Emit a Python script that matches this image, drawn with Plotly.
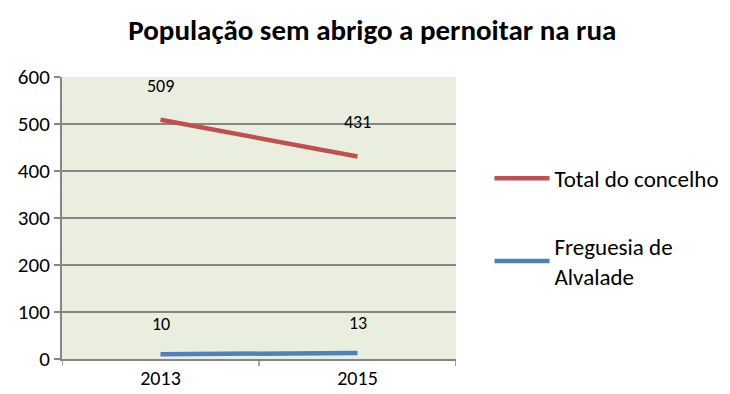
import plotly.graph_objects as go

# Data
years = ["2013", "2015"]
total_concelho = [509, 431]
freguesia_alvalade = [10, 13]
series_names = ["Total do concelho", "Freguesia de<br>Alvalade"]
y_ticks = [0, 100, 200, 300, 400, 500, 600]

FONT = "Carlito, Lato, 'Open Sans', sans-serif"

fig = go.Figure()
fig.add_trace(go.Scatter(
    x=years, y=total_concelho, mode="lines", name=series_names[0],
    legendgroup="a", line=dict(color="#C0504D", width=4.5),
))
fig.add_trace(go.Scatter(
    x=years, y=freguesia_alvalade, mode="lines", name=series_names[1],
    legendgroup="b", line=dict(color="#4F81BD", width=4.5),
))

# value labels above each point (category positions by index)
for series, shift in ((total_concelho, 34), (freguesia_alvalade, 30)):
    for i, v in enumerate(series):
        fig.add_annotation(x=i, y=v, xref="x", yref="y", text=str(v), showarrow=False,
                           yshift=shift, font=dict(size=18, color="#000000", family=FONT))

fig.update_layout(
    width=730, height=394,
    margin=dict(l=62, r=274, t=77, b=35, autoexpand=False),
    paper_bgcolor="white",
    plot_bgcolor="#EAEEDF",
    title=dict(text="<b>População sem abrigo a pernoitar na rua</b>",
               x=0.51, xanchor="center", y=0.925, yanchor="middle",
               font=dict(size=29, color="#000000", family=FONT)),
    font=dict(family=FONT, size=21, color="#000000"),
    legend=dict(x=1.085, y=0.717, xanchor="left", yanchor="top",
                font=dict(size=23, family=FONT), tracegroupgap=35,
                bgcolor="rgba(0,0,0,0)", itemwidth=55),
    showlegend=True,
)
fig.update_xaxes(
    type="category", range=[-0.5, 1.5], automargin=False,
    showgrid=False, showline=True, linecolor="#868686", linewidth=2,
    ticks="", tickfont=dict(size=20), mirror=False, zeroline=False,
)
fig.update_yaxes(
    range=[0, 600], tickvals=y_ticks, automargin=False,
    showgrid=True, gridcolor="#868686", gridwidth=1.5,
    showline=True, linecolor="#868686", linewidth=2,
    ticks="outside", ticklen=6, tickcolor="#868686", tickwidth=1.5,
    tickfont=dict(size=21), zeroline=False,
)
# tick marks between categories on the category axis
for xv in (-0.5, 0.5, 1.5):
    fig.add_shape(type="line", xref="x", yref="paper", x0=xv, x1=xv, y0=0, y1=-0.025,
                  line=dict(color="#868686", width=1.5))

fig.write_html("out.html")
